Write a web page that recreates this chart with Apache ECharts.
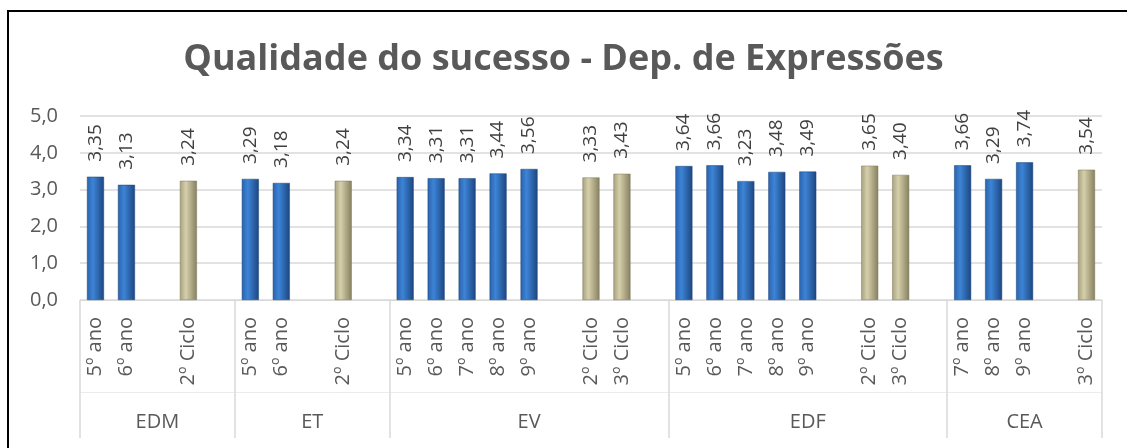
<!DOCTYPE html>
<html>
<head>
<meta charset="utf-8">
<title>Qualidade do sucesso</title>
<script src="https://cdn.jsdelivr.net/npm/echarts@6/dist/echarts.min.js"></script>
<style>
  html, body { margin: 0; padding: 0; background: #fff; }
  #chart { width: 1127px; height: 448px; }
</style>
</head>
<body>
<div id="chart"></div>
<script>
// categorias (linhas vazias como no Excel)
var categories = [
  '5º ano', '6º ano', '', '2º Ciclo', '',
  '5º ano', '6º ano', '', '2º Ciclo', '',
  '5º ano', '6º ano', '7º ano', '8º ano', '9º ano', '', '2º Ciclo', '3º Ciclo', '',
  '5º ano', '6º ano', '7º ano', '8º ano', '9º ano', '', '2º Ciclo', '3º Ciclo', '',
  '7º ano', '8º ano', '9º ano', '', '3º Ciclo'
];
var groups = ['EDM', 'ET', 'EV', 'EDF', 'CEA'];
var groupSizes = [5, 5, 9, 9, 5];

// valores por ano (azul) e por ciclo (bege)
var anoValues = [
  3.35, 3.13, null, null, null,
  3.29, 3.18, null, null, null,
  3.34, 3.31, 3.31, 3.44, 3.56, null, null, null, null,
  3.64, 3.66, 3.23, 3.48, 3.49, null, null, null, null,
  3.66, 3.29, 3.74, null, null
];
var cicloValues = [
  null, null, null, 3.24, null,
  null, null, null, 3.24, null,
  null, null, null, null, null, null, 3.33, 3.43, null,
  null, null, null, null, null, null, 3.65, 3.40, null,
  null, null, null, null, 3.54
];
var yTicks = [0, 1, 2, 3, 4, 5];

// rótulos dos grupos ao centro de cada bloco, e índices das fronteiras
var groupLabels = [];
var boundaries = {};
var pos = 0;
groups.forEach(function (g, i) {
  boundaries[pos] = true;
  for (var k = 0; k < groupSizes[i]; k++) {
    groupLabels.push(k === (groupSizes[i] - 1) / 2 ? g : '');
  }
  pos += groupSizes[i];
});

var FONT = 'Open Sans';
var comma = function (v, d) { return v.toFixed(d).replace('.', ','); };

var chart = echarts.init(document.getElementById('chart'));
var labelOpt = {
  show: true,
  position: 'top',
  rotate: 90,
  align: 'left',
  verticalAlign: 'middle',
  distance: 15,
  fontFamily: FONT,
  fontSize: 19,
  color: '#404040',
  formatter: function (p) { return comma(p.value, 2); }
};

var option = {
  animation: false,
  backgroundColor: '#fff',
  title: {
    text: 'Qualidade do sucesso - Dep. de Expressões',
    left: 'center',
    top: 37,
    textStyle: { fontFamily: FONT, fontSize: 36, fontWeight: 'bold', color: '#595959' }
  },
  graphic: [{
    type: 'rect',
    shape: { x: 8, y: 11, width: 1300, height: 600 },
    style: { fill: null, stroke: '#000', lineWidth: 2 },
    silent: true
  }],
  grid: { left: 80, right: 25, top: 116, bottom: 148 },
  xAxis: [{
    type: 'category',
    data: categories,
    axisLine: { lineStyle: { color: '#d9d9d9' } },
    axisTick: {
      show: true,
      length: 138,
      interval: function (idx) { return !!boundaries[idx]; },
      lineStyle: { color: '#d9d9d9', width: 1.5 }
    },
    axisLabel: {
      interval: 0,
      rotate: 90,
      margin: 17,
      fontFamily: FONT,
      fontSize: 20,
      color: '#595959'
    }
  }, {
    type: 'category',
    data: groupLabels,
    position: 'bottom',
    offset: 92,
    axisLine: { lineStyle: { color: '#ececec' } },
    axisTick: { show: false },
    axisLabel: {
      interval: 0,
      margin: 20,
      fontFamily: FONT,
      fontSize: 20,
      color: '#595959'
    }
  }],
  yAxis: {
    type: 'value',
    min: yTicks[0],
    max: yTicks[yTicks.length - 1],
    interval: 1,
    axisLine: { show: false },
    axisTick: { show: false },
    splitLine: { lineStyle: { color: '#d9d9d9', width: 1.5 } },
    axisLabel: {
      margin: 22,
      fontFamily: FONT,
      fontSize: 20,
      color: '#595959',
      formatter: function (v) { return comma(v, 1); }
    }
  },
  series: [{
    name: 'Ano',
    type: 'bar',
    data: anoValues,
    barWidth: 17,
    barGap: '-100%',
    itemStyle: {
      borderColor: '#1b4379',
      borderWidth: 0.5,
      color: new echarts.graphic.LinearGradient(0, 0, 1, 0, [
        { offset: 0, color: '#2a62ad' },
        { offset: 0.35, color: '#3d84d6' },
        { offset: 1, color: '#1c4680' }
      ])
    },
    label: labelOpt
  }, {
    name: 'Ciclo',
    type: 'bar',
    data: cicloValues,
    barWidth: 17,
    barGap: '-100%',
    itemStyle: {
      borderColor: '#7d7758',
      borderWidth: 0.5,
      color: new echarts.graphic.LinearGradient(0, 0, 1, 0, [
        { offset: 0, color: '#a8a17e' },
        { offset: 0.35, color: '#d6cfab' },
        { offset: 1, color: '#868060' }
      ])
    },
    label: labelOpt
  }]
};
chart.setOption(option);
</script>
</body>
</html>
